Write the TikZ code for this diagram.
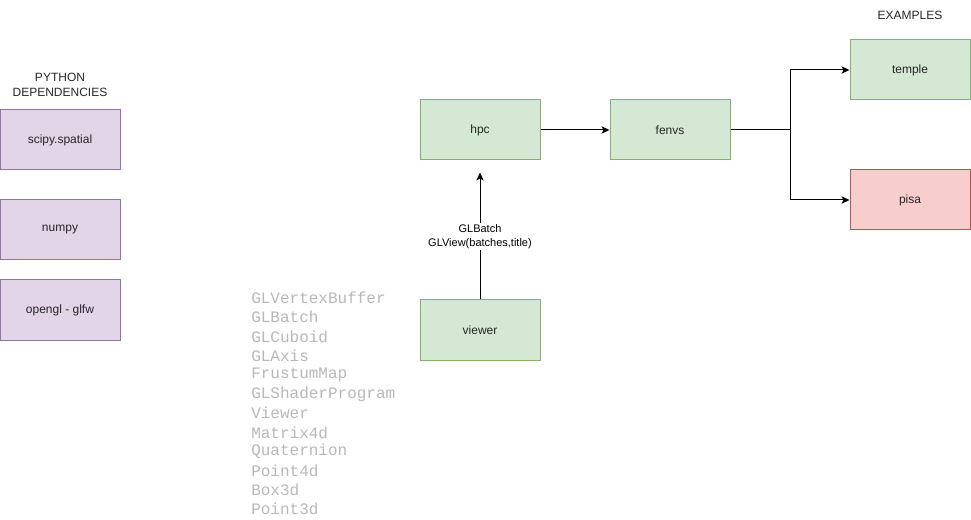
\documentclass[tikz,border=0pt]{standalone}
\usepackage{fontspec}
\setmainfont{Liberation Sans}
\newfontfamily\codefont{Liberation Mono}
\usetikzlibrary{arrows.meta}
\definecolor{greenfill}{HTML}{D5E8D4}
\definecolor{greenline}{HTML}{82B366}
\definecolor{purplefill}{HTML}{E1D5E7}
\definecolor{purpleline}{HTML}{9673A6}
\definecolor{redfill}{HTML}{F8CECC}
\definecolor{redline}{HTML}{B85450}
\definecolor{codegray}{HTML}{B8B8B8}
\tikzset{
  box/.style={draw, line width=0.75pt, minimum width=90pt, minimum height=45pt,
    inner sep=0pt, font=\fontsize{9}{11}\selectfont, text=black!85},
  greenbox/.style={box, fill=greenfill, draw=greenline},
  purplebox/.style={box, fill=purplefill, draw=purpleline},
  redbox/.style={box, fill=redfill, draw=redline},
  heading/.style={font=\fontsize{9}{11.2}\selectfont, text=black!85, align=center, inner sep=0pt},
  codeline/.style={font=\codefont\fontsize{12}{12}\selectfont, text=codegray, anchor=west, inner sep=0pt},
  link/.style={line width=0.75pt, -{Stealth[length=6pt, width=5.5pt, inset=1.5pt]}},
}
\begin{document}
\begin{tikzpicture}[x=0.75pt, y=-0.75pt]
\useasboundingbox (0,0) rectangle (971,520);

% dependency column
\node[heading] (deps) at (60,85) {PYTHON\\DEPENDENCIES};
\node[purplebox] (scipy) at (60,140) {scipy.spatial};
\node[purplebox] (numpy) at (60,230) {numpy};
\node[purplebox] (opengl) at (60,310) {opengl - glfw};

% main modules
\node[greenbox] (hpc) at (480,130) {hpc};
\node[greenbox] (fenvs) at (670,130) {fenvs};
\node[greenbox] (viewer) at (480,330) {viewer};

% examples
\node[heading] (examples) at (910,15) {EXAMPLES};
\node[greenbox] (temple) at (910,70) {temple};
\node[redbox] (pisa) at (910,200) {pisa};

% connectors
\draw[link] (hpc) -- (fenvs);
\coordinate (split) at (790,130);
\draw[link] (fenvs.east) -- (split) |- (temple.west);
\draw[link] (split) |- (pisa.west);
\draw[link, shorten >=9pt] (viewer.north) -- (hpc.south)
  node[pos=0.45, fill=white, inner sep=1pt, align=center,
       font=\fontsize{8.25}{10.5}\selectfont] (lbl) {GLBatch\\GLView(batches,title)};

% class list of the viewer module
\foreach \name [count=\i from 0] in {GLVertexBuffer,GLBatch,GLCuboid,GLAxis,FrustumMap,GLShaderProgram,Viewer,Matrix4d,Quaternion,Point4d,Box3d,Point3d}
  \node[codeline] (cls\i) at (251,298+19.2*\i) {\name};
\end{tikzpicture}
\end{document}
